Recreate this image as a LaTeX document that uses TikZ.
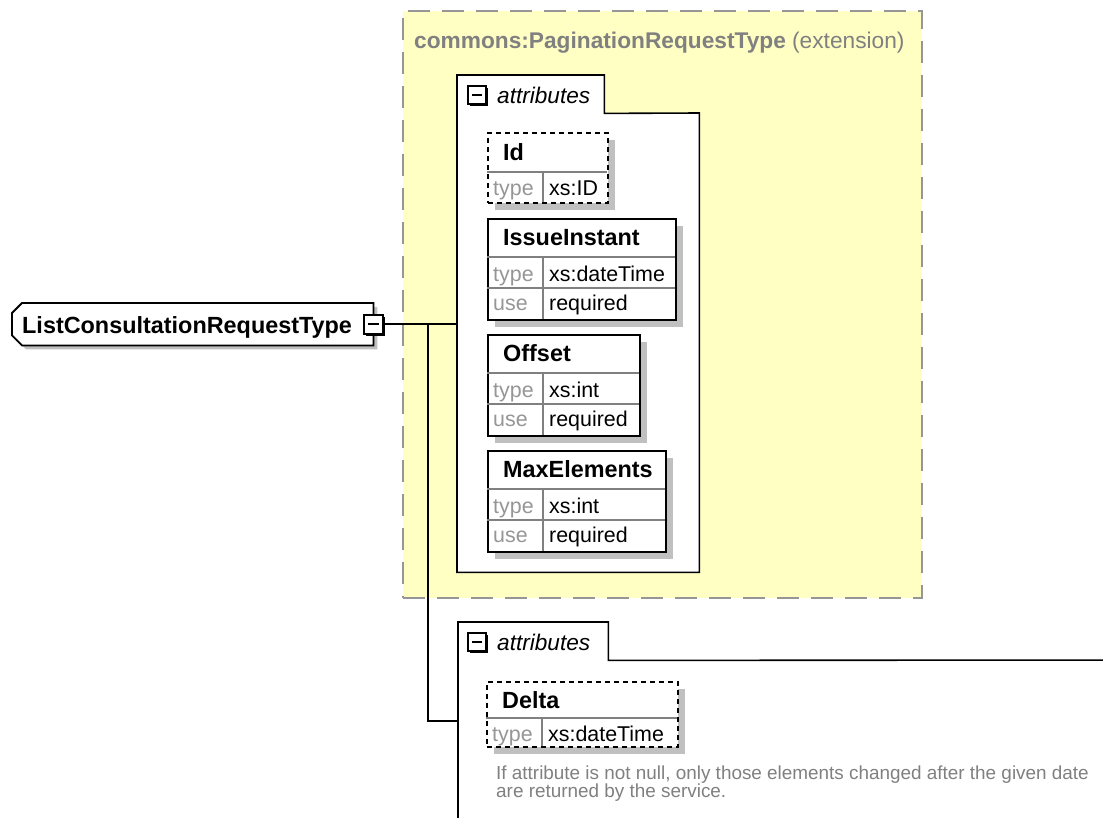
\documentclass[tikz,border=0pt]{standalone}
\usepackage{fontspec}
\setmainfont{Liberation Sans}
\usepackage{tikz}
\usetikzlibrary{positioning,calc,shadows}
\definecolor{extfill}{RGB}{255,255,196}
\definecolor{extline}{RGB}{150,150,150}
\definecolor{xsgrey}{RGB}{128,128,128}
\definecolor{keygrey}{RGB}{150,150,150}
\definecolor{xsshade}{RGB}{192,192,192}
\tikzset{
  xs box/.style={anchor=north west, inner sep=0pt},
  xs ext/.style={
    xs box,
    draw=extline,
    fill=extfill,
    line width=1.8pt,
    dash pattern=on 22pt off 12pt,
  },
  xs title/.style={anchor=base west, inner sep=0pt, text=xsgrey, font=\fontsize{22.7}{26}\selectfont},
  xs group/.style={draw=black, fill=white, line width=1.6pt},
  xs elem/.style={
    xs box,
    draw=black,
    fill=white,
    line width=1.8pt,
    general shadow={fill=xsshade, shadow xshift=7pt, shadow yshift=-7pt},
  },
  xs optional/.style={dash pattern=on 5pt off 4pt},
  xs rule/.style={draw=gray, line width=1.2pt},
  xs name/.style={anchor=base west, inner sep=0pt, font=\fontsize{23.4}{27}\selectfont\bfseries},
  xs key/.style={anchor=base west, inner sep=0pt, text=keygrey, font=\fontsize{21.4}{25}\selectfont},
  xs val/.style={anchor=base west, inner sep=0pt, font=\fontsize{21.4}{25}\selectfont},
  xs tab/.style={anchor=base west, inner sep=0pt, font=\fontsize{22.6}{26}\selectfont\itshape},
  xs collapse/.style={
    draw=black,
    fill=white,
    line width=2pt,
    minimum size=18pt,
    inner sep=0pt,
    general shadow={fill=black, shadow xshift=2pt, shadow yshift=-2pt},
    path picture={\draw[line width=1.8pt] ([xshift=4pt]path picture bounding box.west) -- ([xshift=-4pt]path picture bounding box.east);},
  },
  xs root/.style={draw=black, fill=white, line width=1.8pt},
  xs link/.style={draw=black, line width=1.6pt},
  xs doc/.style={anchor=base west, inner sep=0pt, text=xsgrey, font=\fontsize{18.9}{18}\selectfont},
}
\begin{document}
\begin{tikzpicture}[x=1pt, y=-1pt]
  \useasboundingbox (0,0) rectangle (1103,817);
  \clip (0,0) rectangle (1103,817);

  % base type frame
  \node[xs ext, minimum width=519pt, minimum height=587pt] (ext) at (402,10) {};
  \node[xs title] (ext-title) at (414,48) {\textbf{commons:PaginationRequestType} (extension)};

  % root complex type
  \node[xs box, minimum width=361pt, minimum height=42pt] (root) at (12,303) {};
  \path[xs root, general shadow={fill=xsshade, shadow xshift=4pt, shadow yshift=-4pt}]
    ([xshift=10pt]root.north west) -- (root.north east) -- (root.south east)
    -- ([xshift=10pt]root.south west) -- ([yshift=10pt]root.south west)
    -- ([yshift=-10pt]root.north west) -- cycle;
  \node[xs name] (root-label) at (22,333) {ListConsultationRequestType};

  % links
  \coordinate (fork) at (428,324);
  \node[xs box, minimum width=147pt, minimum height=38pt] (tab1) at (457,75) {};
  \node[xs box, minimum width=242pt, minimum height=459pt] (grp1) at (457,113) {};
  \node[xs box, minimum width=150pt, minimum height=38pt] (tab2) at (458,622) {};
  \node[xs box, minimum width=700pt, minimum height=220pt] (grp2) at (458,660) {};
  \draw[xs link] (root.east) -- (root.east -| grp1.west);
  \draw[xs link] (fork) |- ($(grp2.north west)+(0,61)$);
  \node[xs collapse, minimum size=19pt] (root-minus) at (root.east) {};

  % inherited attributes
  \path[xs group] (grp1.south west) -- (tab1.north west) -- (tab1.north east) -- (tab1.south east)
    -- (grp1.north east) -- (grp1.south east) -- cycle;
  \node[xs collapse] (tab1-minus) at (477,95) {};
  \node[xs tab] (tab1-label) at (497,103) {attributes};

  \node[xs elem, xs optional, minimum width=120pt, minimum height=70pt] (Id) at (487,132) {};
  \draw[xs rule] (487,172) -- (607,172) (543,172) -- (543,202);
  \node[xs name] at (503,160) {Id};
  \node[xs key] at (493,195) {type};
  \node[xs val] at (549,195) {xs:ID};

  \foreach \nm/\ty/\y/\w in {IssueInstant/dateTime/218/188, Offset/int/334/152, MaxElements/int/450/178} {
    \node[xs elem, minimum width=\w pt, minimum height=101pt] (\nm) at (487,\y) {};
    \draw[xs rule] (487,\y+39) -- +(\w,0) (487,\y+70) -- +(\w,0) (543,\y+39) -- (543,\y+101);
    \node[xs name] at (503,\y+27) {\nm};
    \node[xs key] at (493,\y+63) {type};
    \node[xs val] at (549,\y+63) {xs:\ty};
    \node[xs key] at (493,\y+92) {use};
    \node[xs val] at (549,\y+92) {required};
  }

  % own attributes
  \path[xs group] (grp2.south west) -- (tab2.north west) -- (tab2.north east) -- (tab2.south east)
    -- (grp2.north east) -- (grp2.south east) -- cycle;
  \node[xs collapse] (tab2-minus) at (477,642) {};
  \node[xs tab] (tab2-label) at (497,650) {attributes};

  \node[xs elem, xs optional, minimum width=191pt, minimum height=65pt] (Delta) at (486,681) {};
  \draw[xs rule] (486,718) -- (677,718) (542,718) -- (542,746);
  \node[xs name] at (502,708) {Delta};
  \node[xs key] at (492,741) {type};
  \node[xs val] at (548,741) {xs:dateTime};
  \node[xs doc] (delta-doc1) at (496,779) {If attribute is not null, only those elements changed after the given date};
  \node[xs doc] (delta-doc2) at (496,797) {are returned by the service.};
\end{tikzpicture}
\end{document}
